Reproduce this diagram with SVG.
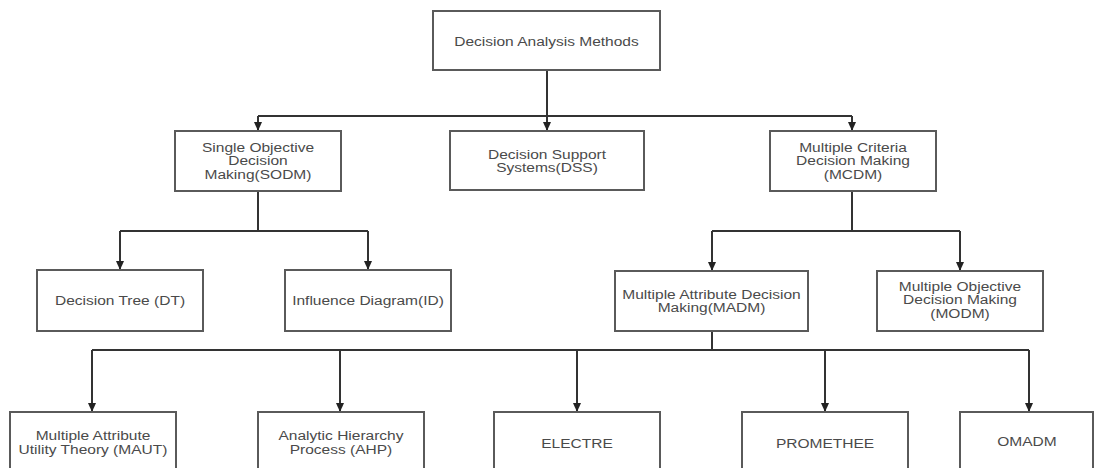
<svg xmlns="http://www.w3.org/2000/svg" width="1095" height="468" viewBox="0 0 1095 468">
  <style>
    .box { fill: #ffffff; stroke: #5a5a5a; stroke-width: 2; }
    .lbl { font-family: "Liberation Sans", Arial, sans-serif; font-size: 13.5px; fill: #4a4a4a; text-anchor: middle; }
    .wire { fill: none; stroke: #333333; stroke-width: 2; }
    .arr { fill: none; stroke: #333333; stroke-width: 2; marker-end: url(#head); }
  </style>
  <defs>
    <marker id="head" markerUnits="userSpaceOnUse" markerWidth="10" markerHeight="8" refX="9" refY="4" orient="auto">
      <path d="M0,0 L9,4 L0,8 Z" fill="#222222"/>
    </marker>
  </defs>
  <rect width="1095" height="468" fill="#ffffff"/>

  <!-- connectors -->
  <g id="connectors">
    <line class="arr" x1="547" y1="70" x2="547" y2="131"/>
    <line class="wire" x1="258" y1="116" x2="852" y2="116"/>
    <line class="arr" x1="258" y1="116" x2="258" y2="131"/>
    <line class="arr" x1="852" y1="116" x2="852" y2="131"/>

    <line class="wire" x1="258" y1="191" x2="258" y2="231"/>
    <line class="wire" x1="120" y1="231" x2="368" y2="231"/>
    <line class="arr" x1="120" y1="231" x2="120" y2="270"/>
    <line class="arr" x1="368" y1="231" x2="368" y2="270"/>

    <line class="wire" x1="852" y1="191" x2="852" y2="231"/>
    <line class="wire" x1="712" y1="231" x2="960" y2="231"/>
    <line class="arr" x1="712" y1="231" x2="712" y2="271"/>
    <line class="arr" x1="960" y1="231" x2="960" y2="271"/>

    <line class="wire" x1="712" y1="331" x2="712" y2="350"/>
    <line class="wire" x1="92" y1="350" x2="1029" y2="350"/>
    <line class="arr" x1="92" y1="350" x2="92" y2="412"/>
    <line class="arr" x1="340" y1="350" x2="340" y2="412"/>
    <line class="arr" x1="577" y1="350" x2="577" y2="412"/>
    <line class="arr" x1="825" y1="350" x2="825" y2="412"/>
    <line class="arr" x1="1029" y1="350" x2="1029" y2="412"/>
  </g>

  <!-- root -->
  <g id="n-root">
    <rect class="box" x="433" y="11" width="227" height="59"/>
    <text class="lbl" transform="translate(546.5,46) scale(1.15,1)">Decision Analysis Methods</text>
  </g>

  <!-- level 1 -->
  <g id="n-sodm">
    <rect class="box" x="175" y="131" width="166" height="60"/>
    <text class="lbl" transform="translate(258,152) scale(1.15,1)"><tspan x="0" dy="0">Single Objective</tspan><tspan x="0" dy="13.5">Decision</tspan><tspan x="0" dy="13.5">Making(SODM)</tspan></text>
  </g>
  <g id="n-dss">
    <rect class="box" x="450" y="131" width="194" height="59"/>
    <text class="lbl" transform="translate(547,159) scale(1.15,1)"><tspan x="0" dy="0">Decision Support</tspan><tspan x="0" dy="13.5">Systems(DSS)</tspan></text>
  </g>
  <g id="n-mcdm">
    <rect class="box" x="770" y="131" width="166" height="60"/>
    <text class="lbl" transform="translate(853,152) scale(1.15,1)"><tspan x="0" dy="0">Multiple Criteria</tspan><tspan x="0" dy="13.5">Decision Making</tspan><tspan x="0" dy="13.5">(MCDM)</tspan></text>
  </g>

  <!-- level 2 -->
  <g id="n-dt">
    <rect class="box" x="37" y="270" width="166" height="61"/>
    <text class="lbl" transform="translate(120,305) scale(1.15,1)">Decision Tree (DT)</text>
  </g>
  <g id="n-id">
    <rect class="box" x="285" y="270" width="166" height="61"/>
    <text class="lbl" transform="translate(368,305) scale(1.15,1)">Influence Diagram(ID)</text>
  </g>
  <g id="n-madm">
    <rect class="box" x="615" y="271" width="193" height="60"/>
    <text class="lbl" transform="translate(711.5,299) scale(1.15,1)"><tspan x="0" dy="0">Multiple Attribute Decision</tspan><tspan x="0" dy="13.5">Making(MADM)</tspan></text>
  </g>
  <g id="n-modm">
    <rect class="box" x="877" y="271" width="166" height="60"/>
    <text class="lbl" transform="translate(960,291) scale(1.15,1)"><tspan x="0" dy="0">Multiple Objective</tspan><tspan x="0" dy="13.5">Decision Making</tspan><tspan x="0" dy="13.5">(MODM)</tspan></text>
  </g>

  <!-- level 3 (boxes run past the bottom edge) -->
  <g id="n-maut">
    <rect class="box" x="10" y="412" width="166" height="80"/>
    <text class="lbl" transform="translate(93,440) scale(1.15,1)"><tspan x="0" dy="0">Multiple Attribute</tspan><tspan x="0" dy="14">Utility Theory (MAUT)</tspan></text>
  </g>
  <g id="n-ahp">
    <rect class="box" x="258" y="412" width="166" height="80"/>
    <text class="lbl" transform="translate(341,440) scale(1.15,1)"><tspan x="0" dy="0">Analytic Hierarchy</tspan><tspan x="0" dy="14">Process (AHP)</tspan></text>
  </g>
  <g id="n-electre">
    <rect class="box" x="494" y="412" width="166" height="80"/>
    <text class="lbl" transform="translate(577,448) scale(1.15,1)">ELECTRE</text>
  </g>
  <g id="n-promethee">
    <rect class="box" x="742" y="412" width="166" height="80"/>
    <text class="lbl" transform="translate(825,448) scale(1.15,1)">PROMETHEE</text>
  </g>
  <g id="n-omadm">
    <rect class="box" x="960" y="412" width="133" height="80"/>
    <text class="lbl" transform="translate(1027,446) scale(1.15,1)">OMADM</text>
  </g>
</svg>
